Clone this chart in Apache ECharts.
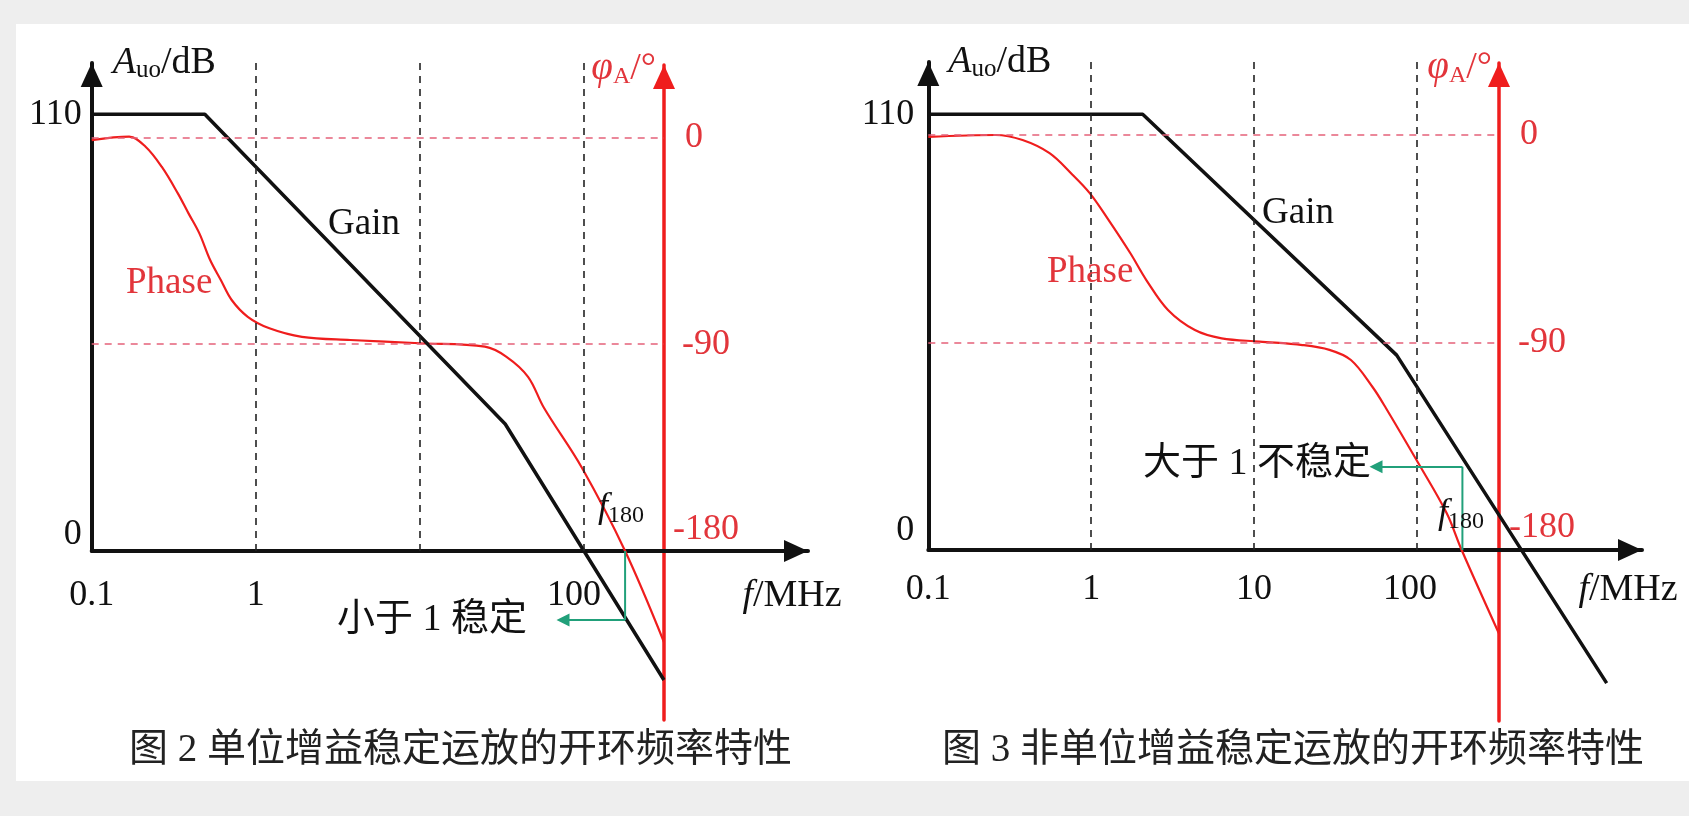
<!DOCTYPE html>
<html>
<head>
<meta charset="utf-8">
<script src="https://cdn.jsdelivr.net/npm/echarts@6/dist/echarts.min.js"></script>
<style>
html,body{margin:0;padding:0;background:#eeeeee;width:1689px;height:816px;overflow:hidden;}
#paper{position:absolute;left:16px;top:24px;width:1673px;height:757px;background:#ffffff;}
#chart{position:absolute;left:0;top:0;width:1689px;height:816px;}
</style>
</head>
<body>
<div id="paper"></div>
<div id="chart"></div>
<script>
// ---------------- data (frequencies in MHz) ----------------
const FIG2_FREQ_TICKS = [0.1, 1, 100];
const FIG2_FREQ_TICK_LABELS = ['0.1', '1', '100'];
const FIG3_FREQ_TICKS = [0.1, 1, 10, 100];
const FIG3_FREQ_TICK_LABELS = ['0.1', '1', '10', '100'];
const GRID_FREQS = [1, 10, 100];          // dashed vertical guides
const GAIN_TICKS = [0, 110];              // dB
const PHASE_TICKS = [0, -90, -180];       // degrees
const PHASE_REF_LINES = [0, -90];         // dashed horizontal guides

// Fig. 2  unity-gain stable op amp
const fig2GainFreq = [0.1, 0.489, 33.1, 307];
const fig2GainDb   = [110, 110, 32, -32.5];
const fig2PhaseFreq = [0.1, 0.169, 0.213, 0.267, 0.335, 0.389, 0.453, 0.527, 0.612, 0.713, 0.893, 1.21, 1.91, 3.76, 10.0, 24.9, 33.7, 45.6, 57.1, 97.3, 178, 307];
const fig2PhaseDeg  = [-1.2, 0.3, -4.1, -12.8, -24.4, -33.1, -41.8, -53.4, -62.1, -70.8, -78.1, -83.1, -86.8, -88.2, -89.6, -91.1, -95.5, -104.2, -117.8, -143.9, -180, -219.6];
const fig2F180 = 178, fig2GainAtF180 = -17.4, fig2ArrowFreq = 74.5;

// Fig. 3  non-unity-gain stable op amp
const fig3GainFreq = [0.1, 2.07, 75.0, 1460];
const fig3GainDb   = [110, 110, 49.2, -33.6];
const fig3PhaseFreq = [0.1, 0.259, 0.379, 0.555, 0.752, 0.982, 1.28, 1.74, 2.18, 2.96, 4.33, 6.32, 10.8, 19.8, 29.0, 39.3, 53.2, 64.4, 102, 152, 188, 318];
const fig3PhaseDeg  = [-0.8, 0, -2.2, -7.9, -16.6, -25.3, -36.9, -51.3, -62.9, -75.9, -84.6, -88.2, -89.6, -91.1, -93.2, -97.6, -109.2, -118.4, -142.4, -164.0, -180, -216.1];
const fig3F180 = 190, fig3GainAtF180 = 21, fig3ArrowFreq = 56.0;

// ---------------- styles ----------------
const SERIF = '"Liberation Serif", "Times New Roman", serif';
const MIXED = '"Liberation Serif", "Noto Sans CJK SC", sans-serif';
const BLACK = '#111111', RED = '#ef1d1d', RED_TEXT = '#e2353b', RED_DASH = '#e5627a', GREEN = '#21a07a';
const lg = Math.log10;

const panels = [
  { ticks: FIG2_FREQ_TICKS, tickLabels: FIG2_FREQ_TICK_LABELS, gainF: fig2GainFreq, gainDb: fig2GainDb,
    phaseF: fig2PhaseFreq, phaseDeg: fig2PhaseDeg, f180: fig2F180, g180: fig2GainAtF180, arrowF: fig2ArrowFreq,
    x0: 91.7, dec: 164.1, axisY: 551, y110: 114.3, yPh0: 137.3, arrowX: 808, redX: 664, topK: 63, topR: 65, botR: 720,
    kMargin: 10, zeroLift: 16, xMargin: 27, shift100: 10, rMargin: 9, rPad: [12, 9], rLift: 21,
    kNamePad: 21, rNamePad: 8, rNameGap: -4, xNameGap: -16, xNameDrop: 45 },
  { ticks: FIG3_FREQ_TICKS, tickLabels: FIG3_FREQ_TICK_LABELS, gainF: fig3GainFreq, gainDb: fig3GainDb,
    phaseF: fig3PhaseFreq, phaseDeg: fig3PhaseDeg, f180: fig3F180, g180: fig3GainAtF180, arrowF: fig3ArrowFreq,
    x0: 928.3, dec: 162.9, axisY: 550, y110: 114.3, yPh0: 135, arrowX: 1642, redX: 1499, topK: 62, topR: 63, botR: 721,
    kMargin: 14, zeroLift: 19, xMargin: 22, shift100: 7, rMargin: 10, rPad: [11, 9], rLift: 22,
    kNamePad: 20, rNamePad: 7, rNameGap: -5, xNameGap: -14, xNameDrop: 40 }
];

const grid = [], xAxis = [], yAxis = [], series = [];

const arrowLine = (color, width) => ({
  show: true, onZero: false, symbol: ['none', 'triangle'], symbolSize: [22, 24], symbolOffset: [0, -12],
  lineStyle: { color: color, width: width }
});

panels.forEach((p, idx) => {
  const gi = idx * 2, pi = idx * 2 + 1;
  const pxPerDb = (p.axisY - p.y110) / 110;
  const pxPerDeg = (p.axisY - p.yPh0) / 180;
  const xMin = lg(p.ticks[0]);

  grid.push({ left: p.x0, top: p.topK, width: p.arrowX - p.x0, height: p.axisY - p.topK, containLabel: false, outerBoundsMode: 'none' });
  grid.push({ left: p.x0, top: p.topR, width: p.redX - p.x0, height: p.botR - p.topR, containLabel: false, outerBoundsMode: 'none' });

  xAxis.push({
    type: 'value', gridIndex: gi, position: 'bottom', min: xMin, max: xMin + (p.arrowX - p.x0) / p.dec,
    axisLine: arrowLine(BLACK, 4), axisTick: { show: false }, splitLine: { show: false },
    axisLabel: {
      customValues: p.ticks.map(lg), margin: p.xMargin, color: BLACK, fontSize: 36, fontFamily: SERIF,
      formatter: v => {
        const k = p.ticks.findIndex(t => Math.abs(lg(t) - v) < 1e-6);
        const s = k >= 0 ? p.tickLabels[k] : '';
        return s === '100' ? '{h|100}' : s;
      },
      rich: { h: { fontSize: 36, fontFamily: SERIF, color: BLACK, padding: [0, p.shift100 * 2, 0, 0] } }
    },
    name: '{i|f}{n|/MHz}', nameLocation: 'end', nameGap: p.xNameGap, nameMoveOverlap: false,
    nameTextStyle: {
      align: 'center', verticalAlign: 'middle', padding: [p.xNameDrop * 2, 0, 0, 0],
      rich: { i: { fontSize: 38, fontStyle: 'italic', fontFamily: SERIF, color: BLACK },
              n: { fontSize: 38, fontFamily: SERIF, color: BLACK } }
    }
  });
  xAxis.push({
    type: 'value', gridIndex: pi, show: false, min: xMin, max: xMin + (p.redX - p.x0) / p.dec,
    axisLine: { show: false }, splitLine: { show: false }
  });

  yAxis.push({
    type: 'value', gridIndex: gi, position: 'left', min: 0, max: (p.axisY - p.topK) / pxPerDb,
    axisLine: arrowLine(BLACK, 4), axisTick: { show: false }, splitLine: { show: false },
    axisLabel: {
      customValues: GAIN_TICKS, margin: p.kMargin, color: BLACK, fontSize: 36, fontFamily: SERIF,
      formatter: v => v === 0 ? '{z|0}' : String(v),
      rich: { z: { fontSize: 36, fontFamily: SERIF, color: BLACK, padding: [0, 0, p.zeroLift * 2, 0] } }
    },
    name: '{a|A}{s|uo}{n|/dB}', nameLocation: 'end', nameGap: 0, nameMoveOverlap: false,
    nameTextStyle: {
      align: 'left', verticalAlign: 'middle', padding: [0, 0, 0, p.kNamePad],
      rich: { a: { fontSize: 38, fontStyle: 'italic', fontFamily: SERIF, color: BLACK, lineHeight: 40 },
              s: { fontSize: 25, fontFamily: SERIF, color: BLACK, lineHeight: 26, verticalAlign: 'bottom' },
              n: { fontSize: 38, fontFamily: SERIF, color: BLACK, lineHeight: 40 } }
    }
  });
  yAxis.push({
    type: 'value', gridIndex: pi, position: 'right',
    min: -180 - (p.botR - p.axisY) / pxPerDeg, max: (p.yPh0 - p.topR) / pxPerDeg,
    axisLine: arrowLine(RED, 3.5), axisTick: { show: false }, splitLine: { show: false },
    axisLabel: {
      customValues: PHASE_TICKS, margin: p.rMargin, color: RED_TEXT, fontSize: 36, fontFamily: SERIF,
      formatter: v => v === 0 ? '{a|0}' : (v === -90 ? '{b|-90}' : '{c|-180}'),
      rich: {
        a: { fontSize: 36, fontFamily: SERIF, color: RED_TEXT, padding: [0, 0, 0, p.rPad[0]] },
        b: { fontSize: 36, fontFamily: SERIF, color: RED_TEXT, padding: [0, 0, 0, p.rPad[1]] },
        c: { fontSize: 36, fontFamily: SERIF, color: RED_TEXT, padding: [0, 0, p.rLift * 2, 0] }
      }
    },
    name: '{p|φ}{s|A}{n|/°}', nameLocation: 'end', nameGap: p.rNameGap, nameMoveOverlap: false,
    nameTextStyle: {
      align: 'right', verticalAlign: 'middle', padding: [0, p.rNamePad, 0, 0],
      rich: { p: { fontSize: 39, fontStyle: 'italic', fontFamily: SERIF, color: RED_TEXT, lineHeight: 40 },
              s: { fontSize: 24, fontFamily: SERIF, color: RED_TEXT, lineHeight: 26, verticalAlign: 'bottom' },
              n: { fontSize: 38, fontFamily: SERIF, color: RED_TEXT, lineHeight: 40 } }
    }
  });

  // gain (black)
  series.push({
    type: 'line', name: 'Gain', xAxisIndex: gi, yAxisIndex: gi, silent: true,
    data: p.gainF.map((f, k) => [lg(f), p.gainDb[k]]),
    symbol: 'none', clip: false, z: 4, lineStyle: { color: BLACK, width: 3.5 },
    markLine: {
      silent: true, symbol: ['none', 'none'], label: { show: false }, animation: false,
      lineStyle: { color: '#222222', width: 1.6, type: [7, 6] },
      data: GRID_FREQS.map(f => ({ xAxis: lg(f) }))
    }
  });
  // phase (red)
  series.push({
    type: 'line', name: 'Phase', xAxisIndex: pi, yAxisIndex: pi, silent: true,
    data: p.phaseF.map((f, k) => [lg(f), p.phaseDeg[k]]),
    symbol: 'none', clip: false, z: 3, smooth: 0.35,
    lineStyle: { color: RED, width: 2.2, join: 'round' },
    markLine: {
      silent: true, symbol: ['none', 'none'], label: { show: false }, animation: false,
      lineStyle: { color: RED_DASH, width: 1.6, type: [7, 6] },
      data: PHASE_REF_LINES.map(v => ({ yAxis: v }))
    }
  });
  // green annotation: from f180 on the axis to the gain curve, then arrow to the text
  series.push({
    type: 'line', xAxisIndex: gi, yAxisIndex: gi, silent: true, symbol: 'none', clip: false, z: 5,
    data: [[lg(p.f180), 0], [lg(p.f180), p.g180]],
    lineStyle: { color: GREEN, width: 2 }
  });
  series.push({
    type: 'lines', coordinateSystem: 'cartesian2d', xAxisIndex: gi, yAxisIndex: gi, silent: true, clip: false, z: 5,
    symbol: ['none', 'triangle'], symbolSize: 13,
    lineStyle: { color: GREEN, width: 2, opacity: 1, curveness: 0 },
    data: [{ coords: [[lg(p.f180), p.g180], [lg(p.arrowF), p.g180]] }]
  });
});

const txt = (x, y, text, size, fill, family, extra) => ({
  type: 'text', x: x, y: y, silent: true, z: 10,
  style: Object.assign({ text: text, fontSize: size, fontFamily: family || SERIF, fill: fill || BLACK, align: 'left', verticalAlign: 'middle' }, extra || {})
});
const f180Rich = {
  i: { fontSize: 36, fontStyle: 'italic', fontFamily: SERIF, fill: BLACK, lineHeight: 40 },
  s: { fontSize: 24, fontFamily: SERIF, fill: BLACK, lineHeight: 26, verticalAlign: 'bottom' }
};

const graphic = [
  txt(328, 224, 'Gain', 37),
  txt(126, 283, 'Phase', 37, RED_TEXT),
  txt(598, 508, '{i|f}{s|180}', 36, BLACK, SERIF, { rich: f180Rich }),
  txt(337, 620, '小于 1 稳定', 38, BLACK, MIXED),
  txt(129, 751, '图 2 单位增益稳定运放的开环频率特性', 39, '#222222', MIXED),
  txt(1262, 213, 'Gain', 37),
  txt(1047, 272, 'Phase', 37, RED_TEXT),
  txt(1438, 514, '{i|f}{s|180}', 36, BLACK, SERIF, { rich: f180Rich }),
  txt(1143, 464, '大于 1 不稳定', 38, BLACK, MIXED),
  txt(942, 751, '图 3 非单位增益稳定运放的开环频率特性', 39, '#222222', MIXED)
];

const chart = echarts.init(document.getElementById('chart'), null, { renderer: 'canvas', width: 1689, height: 816 });
chart.setOption({
  backgroundColor: 'transparent',
  animation: false,
  grid: grid,
  xAxis: xAxis,
  yAxis: yAxis,
  series: series,
  graphic: graphic
});
</script>
</body>
</html>
